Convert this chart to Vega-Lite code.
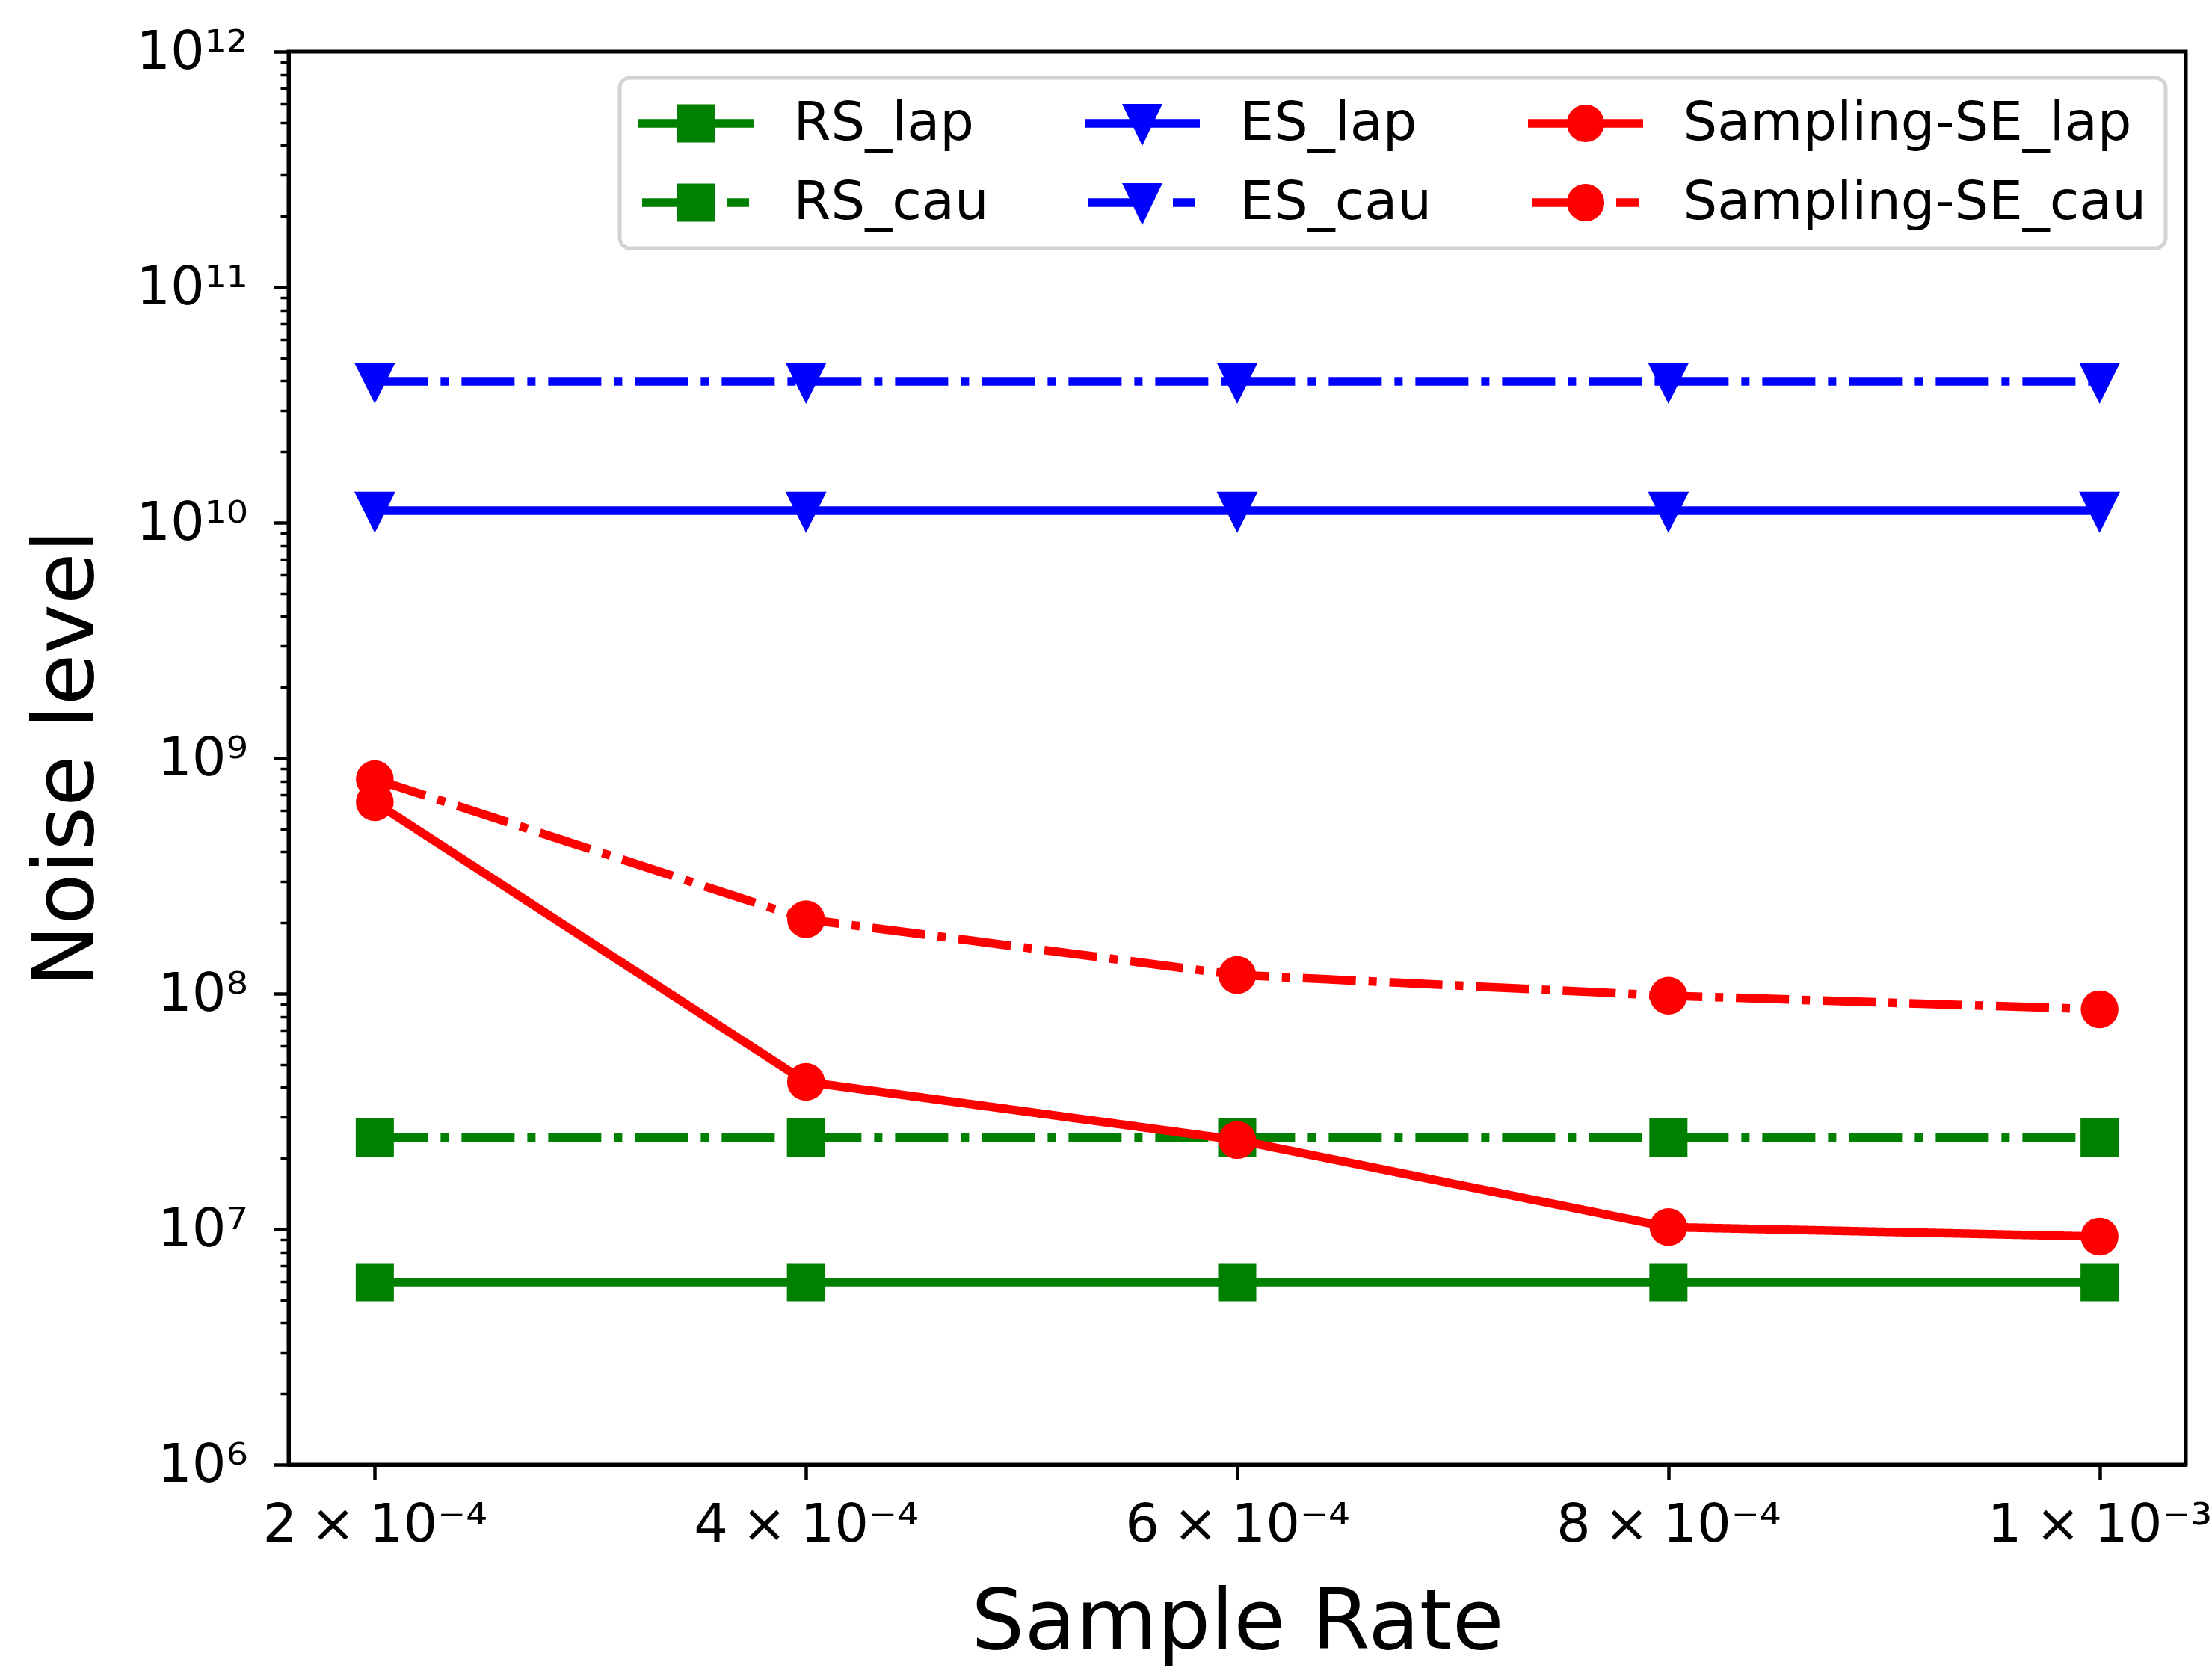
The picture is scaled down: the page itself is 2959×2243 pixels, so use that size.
{
  "$schema": "https://vega.github.io/schema/vega-lite/v6.json",
  "description": "Noise level vs sample rate for RS, ES and Sampling-SE with Laplace and Cauchy noise.",
  "width": 2538,
  "height": 1890,
  "autosize": {"type": "none"},
  "padding": {"left": 386, "top": 69, "right": 35, "bottom": 284},
  "background": "white",
  "data": {
    "values": [
      {"rate": 0.0002, "noise": 5950000, "series": "RS_lap", "method": "RS", "dist": "lap"},
      {"rate": 0.0004, "noise": 5950000, "series": "RS_lap", "method": "RS", "dist": "lap"},
      {"rate": 0.0006, "noise": 5950000, "series": "RS_lap", "method": "RS", "dist": "lap"},
      {"rate": 0.0008, "noise": 5950000, "series": "RS_lap", "method": "RS", "dist": "lap"},
      {"rate": 0.001, "noise": 5950000, "series": "RS_lap", "method": "RS", "dist": "lap"},
      {"rate": 0.0002, "noise": 24500000, "series": "RS_cau", "method": "RS", "dist": "cau"},
      {"rate": 0.0004, "noise": 24500000, "series": "RS_cau", "method": "RS", "dist": "cau"},
      {"rate": 0.0006, "noise": 24500000, "series": "RS_cau", "method": "RS", "dist": "cau"},
      {"rate": 0.0008, "noise": 24500000, "series": "RS_cau", "method": "RS", "dist": "cau"},
      {"rate": 0.001, "noise": 24500000, "series": "RS_cau", "method": "RS", "dist": "cau"},
      {"rate": 0.0002, "noise": 11250000000, "series": "ES_lap", "method": "ES", "dist": "lap"},
      {"rate": 0.0004, "noise": 11250000000, "series": "ES_lap", "method": "ES", "dist": "lap"},
      {"rate": 0.0006, "noise": 11250000000, "series": "ES_lap", "method": "ES", "dist": "lap"},
      {"rate": 0.0008, "noise": 11250000000, "series": "ES_lap", "method": "ES", "dist": "lap"},
      {"rate": 0.001, "noise": 11250000000, "series": "ES_lap", "method": "ES", "dist": "lap"},
      {"rate": 0.0002, "noise": 39800000000, "series": "ES_cau", "method": "ES", "dist": "cau"},
      {"rate": 0.0004, "noise": 39800000000, "series": "ES_cau", "method": "ES", "dist": "cau"},
      {"rate": 0.0006, "noise": 39800000000, "series": "ES_cau", "method": "ES", "dist": "cau"},
      {"rate": 0.0008, "noise": 39800000000, "series": "ES_cau", "method": "ES", "dist": "cau"},
      {"rate": 0.001, "noise": 39800000000, "series": "ES_cau", "method": "ES", "dist": "cau"},
      {"rate": 0.0002, "noise": 650000000, "series": "Sampling-SE_lap", "method": "SE", "dist": "lap"},
      {"rate": 0.0004, "noise": 42200000, "series": "Sampling-SE_lap", "method": "SE", "dist": "lap"},
      {"rate": 0.0006, "noise": 23900000, "series": "Sampling-SE_lap", "method": "SE", "dist": "lap"},
      {"rate": 0.0008, "noise": 10200000, "series": "Sampling-SE_lap", "method": "SE", "dist": "lap"},
      {"rate": 0.001, "noise": 9300000, "series": "Sampling-SE_lap", "method": "SE", "dist": "lap"},
      {"rate": 0.0002, "noise": 815000000, "series": "Sampling-SE_cau", "method": "SE", "dist": "cau"},
      {"rate": 0.0004, "noise": 207000000, "series": "Sampling-SE_cau", "method": "SE", "dist": "cau"},
      {"rate": 0.0006, "noise": 120000000, "series": "Sampling-SE_cau", "method": "SE", "dist": "cau"},
      {"rate": 0.0008, "noise": 98000000, "series": "Sampling-SE_cau", "method": "SE", "dist": "cau"},
      {"rate": 0.001, "noise": 85800000, "series": "Sampling-SE_cau", "method": "SE", "dist": "cau"}
    ]
  },
  "encoding": {
    "x": {
      "field": "rate",
      "type": "quantitative",
      "scale": {"domain": [0.00016, 0.00104], "nice": false, "zero": false},
      "axis": {
        "title": "Sample Rate",
        "titleY": 245,
        "titleBaseline": "alphabetic",
        "values": [0.0002, 0.0004, 0.0006, 0.0008, 0.001],
        "labelExpr": "datum.value > 0.00095 ? '1\u2005×\u200510⁻³' : format(datum.value * 10000, '.0f') + '\u2005×\u200510⁻⁴'",
        "labelPadding": 25,
        "labelLimit": 1000,
        "tickSize": 20,
        "tickWidth": 4.5,
        "labelFlush": false,
        "labelOverlap": false,
        "labelBound": false
      }
    },
    "y": {
      "field": "noise",
      "type": "quantitative",
      "scale": {"type": "log", "domain": [1000000, 1000000000000], "nice": false},
      "axis": {
        "title": "Noise level",
        "titleX": -263,
        "titleBaseline": "alphabetic",
        "values": [
          1000000, 2000000, 3000000, 4000000, 5000000, 6000000, 7000000, 8000000, 9000000,
          10000000, 20000000, 30000000, 40000000, 50000000, 60000000, 70000000, 80000000, 90000000,
          100000000, 200000000, 300000000, 400000000, 500000000, 600000000, 700000000, 800000000, 900000000,
          1000000000, 2000000000, 3000000000, 4000000000, 5000000000, 6000000000, 7000000000, 8000000000, 9000000000,
          10000000000, 20000000000, 30000000000, 40000000000, 50000000000, 60000000000, 70000000000, 80000000000, 90000000000,
          100000000000, 200000000000, 300000000000, 400000000000, 500000000000, 600000000000, 700000000000, 800000000000, 900000000000,
          1000000000000
        ],
        "labelExpr": "abs(log(datum.value) / LN10 - round(log(datum.value) / LN10)) < 0.01 ? '10' + ['⁶', '⁷', '⁸', '⁹', '¹⁰', '¹¹', '¹²'][round(log(datum.value) / LN10) - 6] : ''",
        "tickSize": {"condition": {"test": "abs(log(datum.value) / LN10 - round(log(datum.value) / LN10)) < 0.01", "value": 20}, "value": 11},
        "tickWidth": {"condition": {"test": "abs(log(datum.value) / LN10 - round(log(datum.value) / LN10)) < 0.01", "value": 4.5}, "value": 3.5},
        "labelPadding": 35,
        "labelOverlap": false,
        "labelBound": false
      }
    },
    "color": {
      "field": "series",
      "type": "nominal",
      "scale": {
        "domain": ["RS_lap", "RS_cau", "ES_lap", "ES_cau", "Sampling-SE_lap", "Sampling-SE_cau"],
        "range": ["#008000", "#008000", "#0000ff", "#0000ff", "#ff0000", "#ff0000"]
      },
      "legend": {"title": null, "orient": "none", "legendX": 443, "legendY": 35, "columns": 3}
    }
  },
  "layer": [
    {
      "transform": [{"filter": "datum.method === 'RS'"}],
      "mark": {"type": "line", "strokeWidth": 11.5},
      "encoding": {
        "strokeDash": {"field": "dist", "type": "nominal", "scale": {"domain": ["lap", "cau"], "range": [[1, 0], [71, 17, 11, 17]]}, "legend": null}
      }
    },
    {
      "transform": [{"filter": "datum.method === 'RS'"}],
      "mark": {"type": "point", "shape": "square", "filled": true, "size": 2601, "opacity": 1}
    },
    {
      "transform": [{"filter": "datum.method === 'ES'"}],
      "mark": {"type": "line", "strokeWidth": 11.5},
      "encoding": {
        "strokeDash": {"field": "dist", "type": "nominal", "scale": {"domain": ["lap", "cau"], "range": [[1, 0], [71, 17, 11, 17]]}, "legend": null}
      }
    },
    {
      "transform": [{"filter": "datum.method === 'ES'"}],
      "mark": {"type": "point", "shape": "M-1,-0.91L1,-0.91L0,1.09Z", "filled": true, "size": 3025, "opacity": 1}
    },
    {
      "transform": [{"filter": "datum.method === 'SE'"}],
      "mark": {"type": "line", "strokeWidth": 11.5},
      "encoding": {
        "strokeDash": {"field": "dist", "type": "nominal", "scale": {"domain": ["lap", "cau"], "range": [[1, 0], [71, 17, 11, 17]]}, "legend": null}
      }
    },
    {
      "transform": [{"filter": "datum.method === 'SE'"}],
      "mark": {"type": "point", "shape": "circle", "filled": true, "size": 2550, "opacity": 1}
    },
    {
      "mark": {"type": "point", "filled": true, "opacity": 0},
      "encoding": {
        "shape": {
          "field": "series",
          "type": "nominal",
          "scale": {
            "domain": ["RS_lap", "RS_cau", "ES_lap", "ES_cau", "Sampling-SE_lap", "Sampling-SE_cau"],
            "range": [
              "M-3.08,-0.23H3.08V0.23H-3.08Z M-1.02,-1.02H1.02V1.02H-1.02Z",
              "M-2.88,-0.23H0V0.23H-2.88Z M1.64,-0.23H2.84V0.23H1.64Z M-1.02,-1.02H1.02V1.02H-1.02Z",
              "M-3.08,-0.23H3.08V0.23H-3.08Z M-1.08,-1.04H1.08L0,1.2Z",
              "M-2.88,-0.23H0V0.23H-2.88Z M1.64,-0.23H2.84V0.23H1.64Z M-1.08,-1.04H1.08L0,1.2Z",
              "M-3.08,-0.23H3.08V0.23H-3.08Z M-1,0A1,1,0,0,1,1,0A1,1,0,0,1,-1,0Z",
              "M-2.88,-0.23H0V0.23H-2.88Z M1.64,-0.23H2.84V0.23H1.64Z M-1,0A1,1,0,0,1,1,0A1,1,0,0,1,-1,0Z"
            ]
          },
          "legend": {"title": null, "orient": "none", "legendX": 443, "legendY": 35, "columns": 3}
        }
      }
    }
  ],
  "config": {
    "font": "DejaVu Sans",
    "view": {"stroke": "black", "strokeWidth": 5},
    "axis": {
      "grid": false,
      "domainColor": "black",
      "domainWidth": 5,
      "tickColor": "black",
      "labelColor": "black",
      "titleColor": "black",
      "labelFont": "DejaVu Sans",
      "titleFont": "DejaVu Sans",
      "labelFontSize": 72,
      "titleFontSize": 112,
      "titleFontWeight": "normal"
    },
    "legend": {
      "fillColor": "white",
      "strokeColor": "#d3d3d3",
      "strokeWidth": 5,
      "cornerRadius": 14,
      "padding": 25,
      "labelFont": "DejaVu Sans",
      "labelFontSize": 72,
      "labelColor": "black",
      "labelLimit": 2000,
      "labelOffset": 94.5,
      "symbolOffset": 41,
      "symbolSize": 2500,
      "symbolStrokeWidth": 0,
      "symbolOpacity": 1,
      "rowPadding": 34,
      "columnPadding": 128
    }
  }
}
